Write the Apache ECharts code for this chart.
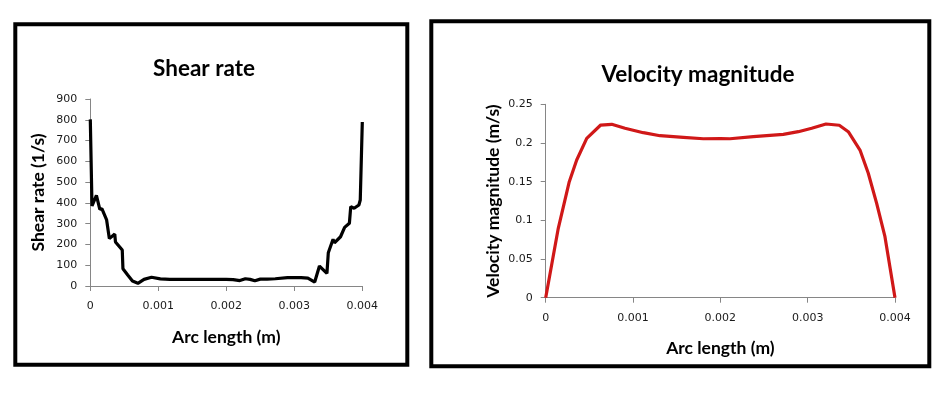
<!DOCTYPE html>
<html>
<head>
<meta charset="utf-8">
<script src="https://cdn.jsdelivr.net/npm/echarts@6/dist/echarts.min.js"></script>
<style>
html,body{margin:0;padding:0;background:#fff;}
#chart{width:952px;height:395px;}
</style>
</head>
<body>
<div id="chart"></div>
<script>
// Shear rate chart data
var shearX = [0, 0.000025, 0.00009, 0.00014, 0.00017, 0.00024, 0.00028, 0.00036, 0.00037, 0.00047, 0.00048, 0.00055, 0.00062, 0.0007, 0.00079, 0.0009, 0.00103, 0.00117, 0.0014, 0.0017, 0.002, 0.0021, 0.0022, 0.00228, 0.00235, 0.00242, 0.0025, 0.0026, 0.00272, 0.00274, 0.0029, 0.0031, 0.0032, 0.0033, 0.00337, 0.00348, 0.0035, 0.00357, 0.00359, 0.00368, 0.00374, 0.00381, 0.00383, 0.00388, 0.00395, 0.00397, 0.004];
var shearY = [802, 385, 436, 369, 372, 318, 228, 250, 212, 173, 83, 53, 24, 13, 32, 42, 34, 32, 32, 32, 32, 31, 26, 35, 32, 25, 33, 33, 35, 40, 40, 40, 38, 19, 96, 61, 160, 225, 208, 237, 282, 302, 382, 374, 390, 414, 789];

// Velocity magnitude chart data
var velX = [0, 0.000144, 0.00027, 0.000355, 0.00047, 0.00063, 0.000756, 0.000908, 0.001118, 0.001309, 0.001576, 0.001805, 0.002, 0.00211, 0.002378, 0.002721, 0.002893, 0.003046, 0.00321, 0.003362, 0.003465, 0.003599, 0.003694, 0.00379, 0.003885, 0.004];
var velY = [0, 0.0897, 0.150, 0.178, 0.206, 0.2232, 0.2241, 0.219, 0.2133, 0.2094, 0.2073, 0.2055, 0.2058, 0.2055, 0.2081, 0.2112, 0.2146, 0.219, 0.2245, 0.2229, 0.2146, 0.1909, 0.1608, 0.122, 0.0789, 0];

var titles = ['Shear rate', 'Velocity magnitude'];
var xNames = ['Arc length (m)', 'Arc length (m)'];
var yNames = ['Shear rate (1/s)', 'Velocity magnitude (m/s)'];

function pairs(xs, ys){ return xs.map(function(x,i){ return [x, ys[i]]; }); }
function fmt(v){ return String(Number(v.toPrecision(6))); }

var axisLineStyle = {color:'#868686', width:1};
var labelFont = {fontFamily:'DejaVu Sans', fontSize:11, color:'#1a1a1a'};
var nameFont = {fontFamily:'Lato', fontWeight:'bold', fontSize:17.5, color:'#000'};
var titleFont = {fontFamily:'Lato', fontWeight:'bold', fontSize:22.5, color:'#000'};

function xAxisCfg(gi, name){
  return {
    type:'value', gridIndex:gi, min:0, max:0.004, interval:0.001,
    name:name, nameLocation:'middle', nameGap:42, nameTextStyle:nameFont,
    axisLine:{show:true, lineStyle:axisLineStyle},
    axisTick:{show:true, inside:false, length:5, lineStyle:axisLineStyle},
    axisLabel:Object.assign({margin:15, formatter:fmt}, labelFont),
    splitLine:{show:false}
  };
}
function yAxisCfg(gi, name, max, interval){
  return {
    type:'value', gridIndex:gi, min:0, max:max, interval:interval,
    name:name, nameLocation:'middle', nameGap:43, nameRotate:90, nameTextStyle:nameFont,
    axisLine:{show:true, lineStyle:axisLineStyle},
    axisTick:{show:true, inside:false, length:5, lineStyle:axisLineStyle},
    axisLabel:Object.assign({margin:13, formatter:fmt}, labelFont),
    splitLine:{show:false}
  };
}

var chart = echarts.init(document.getElementById('chart'), null, {renderer:'canvas'});
chart.setOption({
  animation:false,
  backgroundColor:'#fff',
  title:[
    {text:titles[0], left:199, top:52, textAlign:'center', textStyle:titleFont},
    {text:titles[1], left:693, top:58, textAlign:'center', textStyle:titleFont}
  ],
  grid:[
    {left:90.3, right:952-362.3, top:99, bottom:395-286, containLabel:false},
    {left:545.7, right:952-895, top:104.3, bottom:395-297.7, containLabel:false}
  ],
  xAxis:[xAxisCfg(0, xNames[0]), xAxisCfg(1, xNames[1])],
  yAxis:[yAxisCfg(0, yNames[0], 900, 100), yAxisCfg(1, yNames[1], 0.25, 0.05)],
  series:[
    {type:'line', xAxisIndex:0, yAxisIndex:0, data:pairs(shearX, shearY), showSymbol:false, symbol:'none',
     lineStyle:{color:'#000', width:3.2}, itemStyle:{color:'#000'}},
    {type:'line', xAxisIndex:1, yAxisIndex:1, data:pairs(velX, velY), showSymbol:false, symbol:'none',
     lineStyle:{color:'#D01818', width:3.2}, itemStyle:{color:'#D01818'}}
  ],
  graphic:[
    {type:'rect', shape:{x:15.3, y:24.3, width:392, height:340.4}, style:{fill:null, stroke:'#000', lineWidth:4}, z:-1},
    {type:'rect', shape:{x:431.3, y:21.3, width:498, height:345}, style:{fill:null, stroke:'#000', lineWidth:4}, z:-1}
  ]
});
</script>
</body>
</html>
